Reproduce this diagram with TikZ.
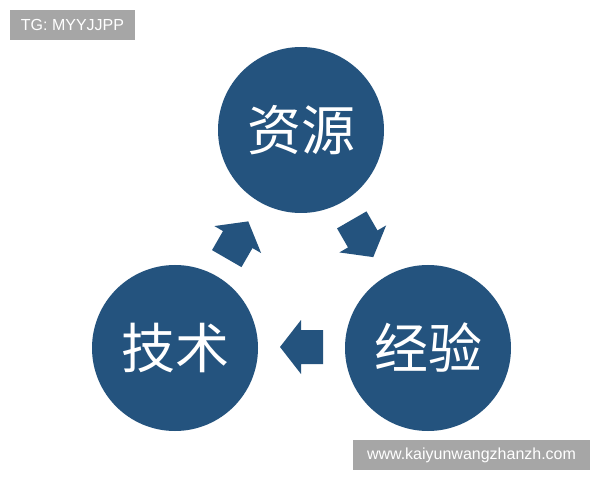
\documentclass[tikz,border=0pt]{standalone}
\usepackage{fontspec}
\setmainfont{Liberation Sans}
\newfontfamily\cjk{Noto Sans CJK SC}
\definecolor{circblue}{RGB}{36,83,126}
\definecolor{tagray}{RGB}{166,166,166}
\begin{document}
\begin{tikzpicture}[x=1pt,y=1pt,
  bigcirc/.style={circle,fill=circblue,minimum size=166pt,inner sep=0pt,text=white,font=\cjk\fontsize{54}{54}\selectfont},
  tagbox/.style={fill=tagray,text=white,inner sep=0pt,font=\fontsize{16}{16}\selectfont},
  pics/blockarrow/.style={code={
    \fill[circblue] (-21.5,-17) -- (0.5,-17) -- (0.5,-27) -- (21.5,0) -- (0.5,27) -- (0.5,17) -- (-21.5,17) -- cycle;}}
]
\useasboundingbox (0,0) rectangle (600,480);
\fill[white] (0,0) rectangle (600,480);
\node[bigcirc] (res) at (301,350) {资源};
\node[bigcirc] (tec) at (175,132) {技术};
\node[bigcirc] (exp) at (428,132) {经验};
\pic (a1) at (301.5,133) [rotate=180] {blockarrow};
\pic (a2) at (237.5,240) [rotate=60] {blockarrow};
\pic (a3) at (362.5,241.5) [rotate=-60] {blockarrow};
\node[tagbox,minimum width=125pt,minimum height=30pt] (tg) at (72.5,455) {TG: MYYJJPP};
\node[tagbox,minimum width=237pt,minimum height=30pt] (url) at (471.5,25) {www.kaiyunwangzhanzh.com};
\end{tikzpicture}
\end{document}
